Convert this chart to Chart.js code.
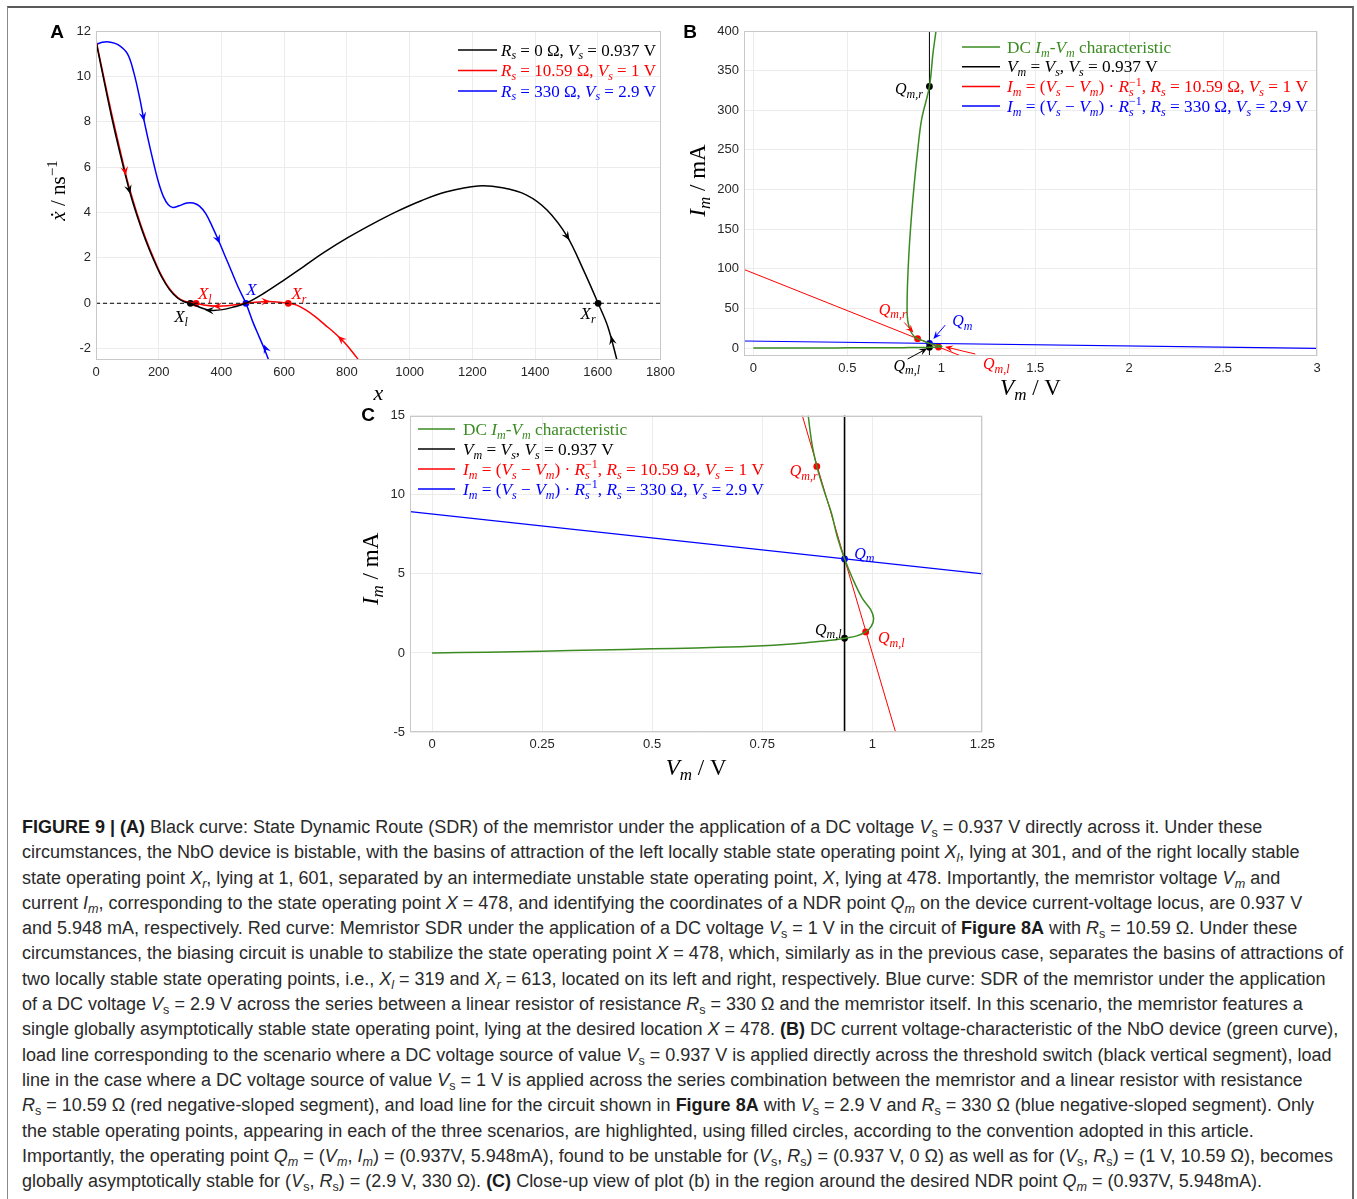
<!DOCTYPE html>
<html>
<head>
<meta charset="utf-8">
<script src="https://cdn.jsdelivr.net/npm/chart.js@4/dist/chart.umd.min.js"></script>
<style>
  html, body { margin: 0; padding: 0; background: #fff; }
  body { width: 1357px; height: 1199px; position: relative; overflow: hidden;
         font-family: "Liberation Sans", Arial, Helvetica, sans-serif; }
  #frame { position: absolute; left: 7px; top: 6px; width: 1344px; height: 1260px;
           border-left: 1px solid #8a8a8a; border-top: 2px solid #5a5a5a; border-right: 2px solid #6a6a6a; }
  .panel { position: absolute; }
  #caption { position: absolute; left: 22px; top: 815px; font-size: 18px; line-height: 25.3px; color: #2a2a2a; }
  #caption div { white-space: nowrap; }
  #caption b { color: #1a1a1a; }
  #caption sub { font-size: 0.7em; vertical-align: -0.3em; line-height: 0; }
</style>
</head>
<body>
<div id="frame"></div>
<div class="panel" style="left:40px;top:15px;"><canvas id="chartA" width="640" height="388"></canvas></div>
<div class="panel" style="left:680px;top:15px;"><canvas id="chartB" width="660" height="388"></canvas></div>
<div class="panel" style="left:350px;top:403px;"><canvas id="chartC" width="650" height="385"></canvas></div>

<div id="caption">
<div><b>FIGURE 9 | (A)</b> Black curve: State Dynamic Route (SDR) of the memristor under the application of a DC voltage <i>V</i><sub>s</sub> = 0.937 V directly across it. Under these</div>
<div>circumstances, the NbO device is bistable, with the basins of attraction of the left locally stable state operating point <i>X</i><sub><i>l</i></sub>, lying at 301, and of the right locally stable</div>
<div>state operating point <i>X</i><sub><i>r</i></sub>, lying at 1, 601, separated by an intermediate unstable state operating point, <i>X</i>, lying at 478. Importantly, the memristor voltage <i>V</i><sub><i>m</i></sub> and</div>
<div>current <i>I</i><sub><i>m</i></sub>, corresponding to the state operating point <i>X</i> = 478, and identifying the coordinates of a NDR point <i>Q</i><sub><i>m</i></sub> on the device current-voltage locus, are 0.937 V</div>
<div>and 5.948 mA, respectively. Red curve: Memristor SDR under the application of a DC voltage <i>V</i><sub>s</sub> = 1 V in the circuit of <b>Figure 8A</b> with <i>R</i><sub>s</sub> = 10.59 Ω. Under these</div>
<div>circumstances, the biasing circuit is unable to stabilize the state operating point <i>X</i> = 478, which, similarly as in the previous case, separates the basins of attractions of</div>
<div>two locally stable state operating points, i.e., <i>X</i><sub><i>l</i></sub> = 319 and <i>X</i><sub><i>r</i></sub> = 613, located on its left and right, respectively. Blue curve: SDR of the memristor under the application</div>
<div>of a DC voltage <i>V</i><sub>s</sub> = 2.9 V across the series between a linear resistor of resistance <i>R</i><sub>s</sub> = 330 Ω and the memristor itself. In this scenario, the memristor features a</div>
<div>single globally asymptotically stable state operating point, lying at the desired location <i>X</i> = 478. <b>(B)</b> DC current voltage-characteristic of the NbO device (green curve),</div>
<div>load line corresponding to the scenario where a DC voltage source of value <i>V</i><sub>s</sub> = 0.937 V is applied directly across the threshold switch (black vertical segment), load</div>
<div>line in the case where a DC voltage source of value <i>V</i><sub>s</sub> = 1 V is applied across the series combination between the memristor and a linear resistor with resistance</div>
<div><i>R</i><sub>s</sub> = 10.59 Ω (red negative-sloped segment), and load line for the circuit shown in <b>Figure 8A</b> with <i>V</i><sub>s</sub> = 2.9 V and <i>R</i><sub>s</sub> = 330 Ω (blue negative-sloped segment). Only</div>
<div>the stable operating points, appearing in each of the three scenarios, are highlighted, using filled circles, according to the convention adopted in this article.</div>
<div>Importantly, the operating point <i>Q</i><sub><i>m</i></sub> = (<i>V</i><sub><i>m</i></sub>, <i>I</i><sub><i>m</i></sub>) = (0.937V, 5.948mA), found to be unstable for (<i>V</i><sub>s</sub>, <i>R</i><sub>s</sub>) = (0.937 V, 0 Ω) as well as for (<i>V</i><sub>s</sub>, <i>R</i><sub>s</sub>) = (1 V, 10.59 Ω), becomes</div>
<div>globally asymptotically stable for (<i>V</i><sub>s</sub>, <i>R</i><sub>s</sub>) = (2.9 V, 330 Ω). <b>(C)</b> Close-up view of plot (b) in the region around the desired NDR point <i>Q</i><sub><i>m</i></sub> = (0.937V, 5.948mA).</div>
</div>

<script>
// ---------- Panel A: state dynamic routes, x versus dx/dt (ns^-1) ----------
const sdrRs0 = [[0,11.55],[25,9.85],[50,8.2],[75,6.7],[106,4.99],[132,3.81],[158,2.79],[184,1.91],[209,1.17],
  [235,0.59],[261,0.22],[281,0.07],[301,0],[339,-0.22],[365,-0.31],[403,-0.28],[442,-0.15],[478,0],[533,0.42],
  [597,1.0],[662,1.62],[727,2.24],[804,2.9],[882,3.5],[960,4.05],[1037,4.52],[1115,4.9],[1218,5.17],
  [1296,5.09],[1373,4.77],[1438,4.11],[1503,2.93],[1554,1.47],[1601,0],[1632,-1.03],[1662,-2.55]];
const sdrRs1059 = [[0,11.6],[25,9.95],[50,8.35],[75,6.85],[93,5.8],[106,5.1],[132,3.9],[158,2.87],[184,1.98],
  [209,1.22],[235,0.63],[261,0.25],[280,0.1],[300,0.03],[319,0],[350,-0.09],[384,-0.13],[420,-0.11],[450,-0.06],
  [478,0],[520,0.06],[550,0.08],[585,0.05],[613,0],[640,-0.08],[670,-0.3],[700,-0.6],[730,-0.95],[760,-1.3],
  [790,-1.7],[815,-2.1],[840,-2.55]];
const sdrRs330 = [[0,11.4],[20,11.5],[41,11.52],[70,11.4],[100,11.0],[120,10.2],[140,9.0],[151,8.2],[165,7.3],
  [184,6.16],[200,5.3],[215,4.7],[230,4.35],[245,4.22],[265,4.3],[290,4.42],[310,4.42],[330,4.28],[350,3.95],
  [370,3.4],[390,2.79],[410,2.13],[430,1.48],[455,0.66],[478,0],[500,-0.82],[520,-1.47],[535,-1.95],[552,-2.55]];
const zeroLine = [[0,0],[1800,0]];
const statesRs0 = [[301,0],[1601,0]];
const statesRs1059 = [[319,0],[613,0]];
const statesRs330 = [[478,0]];
// flow direction marks: [x, y, towards x, towards y]
const flowRs0 = [[106,4.99,112,4.7],[360,-0.31,350,-0.30],[1503,2.93,1510,2.78],[1645,-1.6,1642,-1.4]];
const flowRs1059 = [[93,5.8,97,5.5],[385,-0.13,375,-0.13],[543,0.075,553,0.075],[780,-1.56,770,-1.43]];
const flowRs330 = [[151,8.2,155,7.9],[390,2.79,395,2.63],[540,-1.98,536,-1.85]];
const xTicksA = [0,200,400,600,800,1000,1200,1400,1600,1800];
const yTicksA = [-2,0,2,4,6,8,10,12];

// ---------- Panels B and C: DC Im-Vm characteristic and load lines (V, mA) ----------
const dcIV = [[0,0],[0.125,0.05],[0.25,0.11],[0.376,0.19],[0.5,0.26],[0.6,0.32],[0.7,0.4],[0.752,0.46],[0.8,0.54],
  [0.85,0.65],[0.9,0.78],[0.937,0.93],[0.965,1.08],[0.985,1.33],[0.998,1.7],[1.003,2.2],[0.996,2.75],[0.977,3.47],
  [0.957,4.6],[0.937,5.95],[0.92,7.4],[0.907,8.87],[0.89,10.3],[0.874,11.8],[0.862,13.4],[0.851,16],[0.84,20],
  [0.83,26],[0.822,34],[0.818,48],[0.82,78],[0.828,120],[0.84,162],[0.855,204],[0.873,246],[0.895,288],
  [0.937,330],[0.956,372],[0.975,405]];
const loadRs0 = [[0.937,-12],[0.937,405]];
const loadRs1059 = [[-0.05,99.2],[1.2,-18.9]];
const loadRs330 = [[-0.05,8.94],[3,-0.3]];
const opRs0 = [[0.937,330],[0.937,0.93]];
const opRs1059 = [[0.874,11.8],[0.985,1.33]];
const opRs330 = [[0.937,5.948]];
const xTicksB = [0,0.5,1,1.5,2,2.5,3];
const yTicksB = [0,50,100,150,200,250,300,350,400];
const xTicksC = [0,0.25,0.5,0.75,1,1.25];
const yTicksC = [-5,0,5,10,15];

// legend texts ([..] italic, _{..} subscript, ^{..} superscript)
const legendA = ['[R]_{s} = 0 Ω, [V]_{s} = 0.937 V', '[R]_{s} = 10.59 Ω, [V]_{s} = 1 V', '[R]_{s} = 330 Ω, [V]_{s} = 2.9 V'];
const legendBC = ['DC [I]_{m}-[V]_{m} characteristic', '[V]_{m} = [V]_{s}, [V]_{s} = 0.937 V',
  '[I]_{m} = ([V]_{s} − [V]_{m}) · [R]_{s}^{−1}, [R]_{s} = 10.59 Ω, [V]_{s} = 1 V',
  '[I]_{m} = ([V]_{s} − [V]_{m}) · [R]_{s}^{−1}, [R]_{s} = 330 Ω, [V]_{s} = 2.9 V'];

const BLACK = '#000000', RED = '#ff0000', BLUE = '#0000ff', GREEN = '#3b8b22';
const SANS = '"Liberation Sans", Arial, Helvetica, sans-serif';
const SERIF = '"Liberation Serif", "Times New Roman", serif';

const pts = arr => arr.map(([x, y]) => ({ x, y }));

// ---------- rich math text on canvas ----------
function richParts(s) {
  const out = []; let buf = '', i = 0;
  const flush = () => { if (buf) { out.push({ t: buf, k: 'r' }); buf = ''; } };
  while (i < s.length) {
    const c = s[i];
    if (c === '[') { flush(); const j = s.indexOf(']', i); out.push({ t: s.slice(i + 1, j), k: 'i' }); i = j + 1; }
    else if ((c === '_' || c === '^') && s[i + 1] === '{') {
      flush(); const j = s.indexOf('}', i); out.push({ t: s.slice(i + 2, j), k: c === '_' ? 'sub' : 'sup' }); i = j + 1;
    } else { buf += c; i++; }
  }
  flush(); return out;
}
function drawRich(ctx, s, x, y, size, color, align) {
  const small = Math.round(size * 0.72);
  const fonts = { r: `${size}px ${SERIF}`, i: `italic ${size}px ${SERIF}`,
                  sub: `italic ${small}px ${SERIF}`, sup: `${small}px ${SERIF}` };
  const items = []; let cx = 0, subStart = 0, prev = null;
  for (const p of richParts(s)) {
    ctx.font = fonts[p.k];
    const w = ctx.measureText(p.t).width;
    if (p.k === 'sup' && prev === 'sub') { items.push({ ...p, x: subStart }); cx = Math.max(cx, subStart + w); }
    else { if (p.k === 'sub') subStart = cx; items.push({ ...p, x: cx }); cx += w; }
    prev = p.k;
  }
  const x0 = align === 'center' ? x - cx / 2 : align === 'right' ? x - cx : x;
  const base = y + size * 0.33;
  ctx.fillStyle = color; ctx.textBaseline = 'alphabetic'; ctx.textAlign = 'left';
  for (const it of items) {
    ctx.font = fonts[it.k];
    const dy = it.k === 'sub' ? size * 0.22 : it.k === 'sup' ? -size * 0.38 : 0;
    ctx.fillText(it.t, x0 + it.x, base + dy);
  }
}
function arrowHead(ctx, px, py, ang, len, color) {
  ctx.save(); ctx.translate(px, py); ctx.rotate(ang);
  ctx.beginPath(); ctx.moveTo(0, 0); ctx.lineTo(-len, -len * 0.42); ctx.lineTo(-len * 0.62, 0); ctx.lineTo(-len, len * 0.42);
  ctx.closePath(); ctx.fillStyle = color; ctx.fill(); ctx.restore();
}

// ---------- decorations: axes box, arrows, labels, legend, titles ----------
const panelPlugin = {
  id: 'panel',
  afterDraw(chart, _args, o) {
    const { ctx, chartArea: a } = chart;
    const X = chart.scales.x, Y = chart.scales.y;
    const px = v => X.getPixelForValue(v), py = v => Y.getPixelForValue(v);
    ctx.save();
    ctx.strokeStyle = '#c8c8c8'; ctx.lineWidth = 1;
    ctx.strokeRect(Math.round(a.left) + 0.5, Math.round(a.top) + 0.5, Math.round(a.right - a.left) - 1, Math.round(a.bottom - a.top) - 1);

    (o.flow || []).forEach(f => f.list.forEach(([x0, y0, x1, y1]) => {
      const ang = Math.atan2(py(y1) - py(y0), px(x1) - px(x0));
      arrowHead(ctx, px(x0) + Math.cos(ang) * 4, py(y0) + Math.sin(ang) * 4, ang, 9, f.color);
    }));
    (o.pointers || []).forEach(p => {
      const tx = px(p.from[0]), ty = py(p.from[1]), hx = px(p.to[0]), hy = py(p.to[1]);
      const ang = Math.atan2(hy - ty, hx - tx);
      ctx.strokeStyle = p.color; ctx.lineWidth = 1;
      ctx.beginPath(); ctx.moveTo(tx, ty); ctx.lineTo(hx - Math.cos(ang) * 4, hy - Math.sin(ang) * 4); ctx.stroke();
      arrowHead(ctx, hx, hy, ang, 8, p.color);
    });
    (o.labels || []).forEach(l => drawRich(ctx, l.text, px(l.at[0]), py(l.at[1]), l.size || 16, l.color, 'center'));

    const L = o.legend;
    if (L) {
      chart.data.datasets.filter(d => d.legendText).forEach((d, i) => {
        const yy = L.y + i * L.dy;
        ctx.strokeStyle = d.borderColor; ctx.lineWidth = 1.5;
        ctx.beginPath(); ctx.moveTo(L.x, yy); ctx.lineTo(L.x + L.len, yy); ctx.stroke();
        drawRich(ctx, d.legendText, L.x + L.len + L.gap, yy, L.size, d.borderColor, 'left');
      });
    }
    if (o.xTitle) drawRich(ctx, o.xTitle.text, (a.left + a.right) / 2, a.bottom + o.xTitle.off, o.xTitle.size, '#000', 'center');
    if (o.yTitle) {
      ctx.save(); ctx.translate(a.left - o.yTitle.off, (a.top + a.bottom) / 2 + o.yTitle.shift); ctx.rotate(-Math.PI / 2);
      drawRich(ctx, o.yTitle.text, 0, 0, o.yTitle.size, '#000', 'center'); ctx.restore();
    }
    if (o.letter) {
      ctx.font = `bold 19px ${SANS}`; ctx.fillStyle = '#000'; ctx.textAlign = 'center'; ctx.textBaseline = 'middle';
      ctx.fillText(o.letter.text, o.letter.x, o.letter.y);
    }
    ctx.restore();
  }
};

function line(data, color, width, extra) {
  return Object.assign({ data: pts(data), borderColor: color, backgroundColor: color, borderWidth: width,
    showLine: true, pointRadius: 0, tension: 0.35, fill: false }, extra || {});
}
function marks(data, color) {
  return { data: pts(data), borderColor: color, backgroundColor: color, pointRadius: 3.4, pointBorderWidth: 0,
    showLine: false };
}
function axis(min, max, ticks, fitKey, fitVal, pad) {
  return {
    type: 'linear', min, max,
    afterBuildTicks: s => { s.ticks = ticks.map(v => ({ value: v })); },
    afterFit: s => { s[fitKey] = fitVal; },
    grid: { color: '#ececec', lineWidth: 1, drawTicks: false },
    border: { display: false },
    ticks: { padding: pad, autoSkip: false, maxRotation: 0, color: '#262626',
             font: { family: SANS, size: 13 }, callback: v => String(v) }
  };
}
function makeChart(id, datasets, sc, panel) {
  return new Chart(document.getElementById(id), {
    type: 'scatter',
    data: { datasets },
    options: {
      responsive: false, animation: false, events: [],
      layout: { padding: { top: sc.padTop, right: sc.padRight, left: 0, bottom: 0 } },
      plugins: { legend: { display: false }, tooltip: { enabled: false }, panel },
      scales: { x: sc.x, y: sc.y }
    },
    plugins: [panelPlugin]
  });
}

// Panel A
makeChart('chartA', [
  line(zeroLine, BLACK, 1, { borderDash: [4, 3], tension: 0 }),
  line(sdrRs0, BLACK, 1.5, { legendText: legendA[0] }),
  line(sdrRs1059, RED, 1.5, { legendText: legendA[1] }),
  line(sdrRs330, BLUE, 1.5, { legendText: legendA[2] }),
  marks(statesRs0, BLACK), marks(statesRs1059, RED), marks(statesRs330, BLUE)
], { padTop: 16, padRight: 14, x: axis(0, 1800, xTicksA, 'height', 43, 5), y: axis(-2.5, 12, yTicksA, 'width', 56, 5) }, {
  flow: [{ color: BLACK, list: flowRs0 }, { color: RED, list: flowRs1059 }, { color: BLUE, list: flowRs330 }],
  labels: [
    { text: '[X]_{l}', at: [271, -0.57], color: BLACK, size: 17 },
    { text: '[X]_{l}', at: [347, 0.44], color: RED, size: 17 },
    { text: '[X]', at: [496, 0.62], color: BLUE, size: 17 },
    { text: '[X]_{r}', at: [647, 0.44], color: RED, size: 17 },
    { text: '[X]_{r}', at: [1569, -0.44], color: BLACK, size: 17 }
  ],
  legend: { x: 418, y: 35, dy: 20.5, len: 39, gap: 4, size: 17 },
  xTitle: { text: '[x]', off: 33, size: 22 },
  yTitle: { text: '[ẋ] / ns^{−1}', off: 38, shift: -5, size: 21 },
  letter: { text: 'A', x: 17, y: 18 }
});

// Panels B and C share the characteristic, load lines and operating points
const bcSets = vsWidth => [
  line(dcIV, GREEN, 1.5, { legendText: legendBC[0] }),
  line(loadRs0, BLACK, vsWidth, { legendText: legendBC[1], tension: 0 }),
  line(loadRs1059, RED, 1, { legendText: legendBC[2], tension: 0 }),
  line(loadRs330, BLUE, 1.2, { legendText: legendBC[3], tension: 0 }),
  marks(opRs0, BLACK), marks(opRs1059, RED), marks(opRs330, BLUE)
];
makeChart('chartB', bcSets(1),
  { padTop: 16, padRight: 23, x: axis(-0.05, 3, xTicksB, 'height', 47, 5), y: axis(-10, 400, yTicksB, 'width', 64, 5) }, {
  pointers: [
    { from: [0.803, 32.3], to: [0.852, 19.5], color: RED },
    { from: [1.021, 28.9], to: [0.958, 11.5], color: BLUE },
    { from: [0.821, -13.8], to: [0.925, -0.5], color: BLACK },
    { from: [1.181, -7.5], to: [1.02, 1.6], color: RED }
  ],
  labels: [
    { text: '[Q]_{m,r}', at: [0.828, 327], color: BLACK },
    { text: '[Q]_{m,r}', at: [0.741, 49], color: RED },
    { text: '[Q]_{m}', at: [1.112, 34], color: BLUE },
    { text: '[Q]_{m,l}', at: [0.816, -22], color: BLACK },
    { text: '[Q]_{m,l}', at: [1.293, -20], color: RED }
  ],
  legend: { x: 282, y: 32, dy: 19.7, len: 38, gap: 7, size: 17.3 },
  xTitle: { text: '[V]_{m} / V', off: 31, size: 23 },
  yTitle: { text: '[I]_{m} / mA', off: 47, shift: -13, size: 23 },
  letter: { text: 'B', x: 10, y: 18 }
});

// Panel C: close-up around the NDR point
makeChart('chartC', bcSets(1.6),
  { padTop: 10, padRight: 16, x: axis(-0.05, 1.25, xTicksC, 'height', 56, 5), y: axis(-5, 15, yTicksC, 'width', 60, 5) }, {
  labels: [
    { text: '[Q]_{m,r}', at: [0.844, 11.5], color: RED },
    { text: '[Q]_{m}', at: [0.982, 6.3], color: BLUE },
    { text: '[Q]_{m,l}', at: [0.9, 1.5], color: BLACK },
    { text: '[Q]_{m,l}', at: [1.043, 0.94], color: RED }
  ],
  legend: { x: 68, y: 26, dy: 20, len: 37, gap: 8, size: 17.3 },
  xTitle: { text: '[V]_{m} / V', off: 35, size: 23 },
  yTitle: { text: '[I]_{m} / mA', off: 40, shift: -5, size: 23 },
  letter: { text: 'C', x: 18, y: 13 }
});
</script>
</body>
</html>
